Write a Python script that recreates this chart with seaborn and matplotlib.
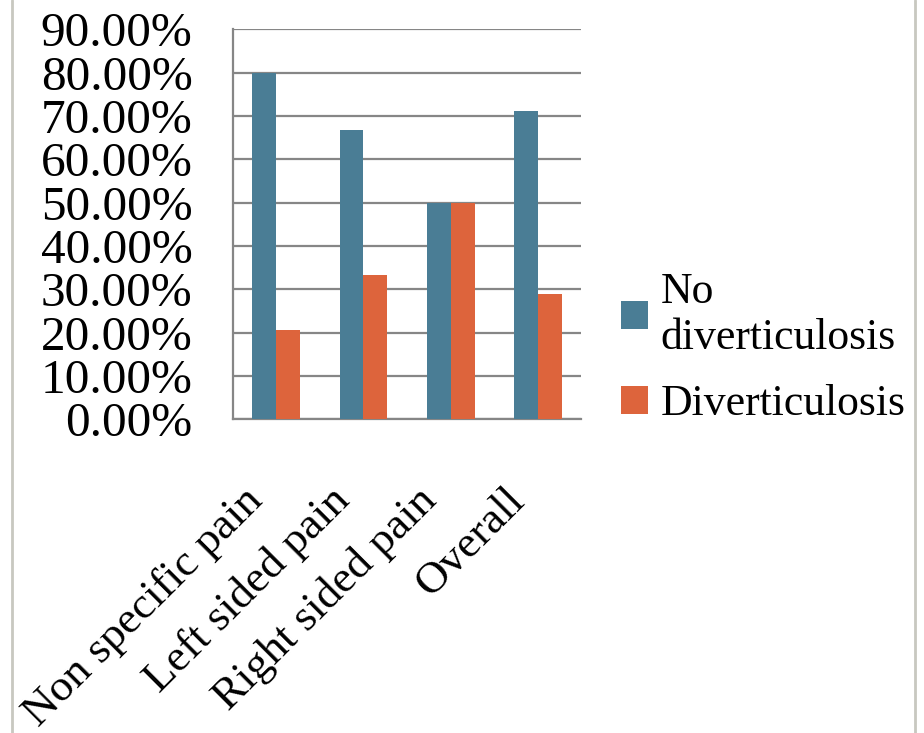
import matplotlib
matplotlib.use("Agg")
import seaborn as sns
import pandas as pd
import matplotlib.pyplot as plt
from matplotlib.ticker import FuncFormatter, FixedLocator
from matplotlib.lines import Line2D
from matplotlib.transforms import ScaledTranslation

# data
categories = ["Non specific pain", "Left sided pain", "Right sided pain", "Overall"]
no_divert = [80.0, 66.7, 50.0, 71.1]
divert = [20.7, 33.3, 50.0, 28.9]
series_names = ["No\ndiverticulosis", "Diverticulosis"]
colors = ["#4A7D95", "#DD643C"]

df = pd.DataFrame({
    "category": categories * 2,
    "series": [series_names[0]] * 4 + [series_names[1]] * 4,
    "value": [v / 100 for v in no_divert] + [v / 100 for v in divert],
})

sns.set_style("white")
plt.rcParams["font.family"] = ["Liberation Serif", "DejaVu Serif"]
plt.rcParams["text.color"] = "black"
plt.rcParams["xtick.labelcolor"] = "black"
plt.rcParams["ytick.labelcolor"] = "black"

fig = plt.figure(figsize=(9.24, 7.33), dpi=100)
ax = fig.add_axes([0.252, 0.428, 0.377, 0.532])

sns.barplot(data=df, x="category", y="value", hue="series", palette=colors,
            width=0.55, saturation=1, linewidth=0, ax=ax, zorder=3)

ax.set_ylim(0, 0.9)
ax.set_xlim(-0.5, 3.5)
ax.set_yticks([i / 10 for i in range(10)])
ax.yaxis.set_major_formatter(FuncFormatter(lambda v, p: f"{v * 100:.2f}%"))
ax.grid(axis="y", color="#868686", linewidth=1.6, zorder=0)
ax.set_axisbelow(True)

# category boundary ticks on x-axis
ax.xaxis.set_minor_locator(FixedLocator([-0.5, 0.5, 1.5, 2.5, 3.5]))
ax.tick_params(axis="x", which="major", length=0, pad=8)
ax.tick_params(axis="x", which="minor", length=14, width=1.6, color="#868686")
ax.tick_params(axis="y", length=14, width=1.6, color="#868686", labelsize=35.5, pad=15)

# rotated category labels, nudged along the text line like the original
shift = ScaledTranslation(-0.20, -0.64, fig.dpi_scale_trans)
for lab in ax.get_xticklabels():
    lab.set_rotation(45)
    lab.set_ha("right")
    lab.set_va("center")
    lab.set_rotation_mode("anchor")
    lab.set_fontsize(32.5)
    lab.set_transform(lab.get_transform() + shift)

for s in ["top", "right"]:
    ax.spines[s].set_visible(False)
for s in ["left", "bottom"]:
    ax.spines[s].set_color("#868686")
    ax.spines[s].set_linewidth(1.6)

ax.set_xlabel("")
ax.set_ylabel("")

leg = ax.legend(loc="center left", bbox_to_anchor=(0.63, 0.525),
                bbox_transform=fig.transFigure, frameon=False, fontsize=31.5,
                handlelength=0.6, handleheight=0.6, handletextpad=0.3,
                labelspacing=0.6)

# picture frame lines
fig.add_artist(Line2D([0.013, 0.013], [0, 1], color="#c8c8c0", linewidth=2,
                      transform=fig.transFigure))
fig.add_artist(Line2D([0.99, 0.99], [0, 1], color="#c8c8c0", linewidth=2,
                      transform=fig.transFigure))

fig.savefig("out.png", dpi=100)
